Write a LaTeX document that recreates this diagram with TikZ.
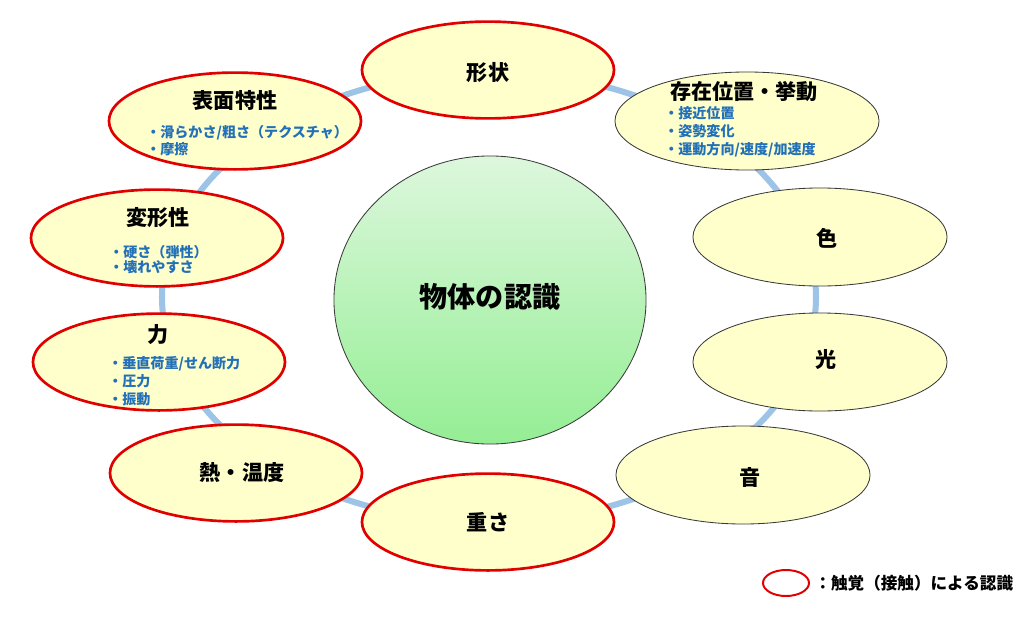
\documentclass[tikz,border=0pt]{standalone}
\usepackage{fontspec}
\setmainfont{Noto Sans CJK JP}
\usetikzlibrary{positioning,shapes.geometric}
\definecolor{ringblue}{HTML}{9DC3E6}
\definecolor{paleyellow}{HTML}{FFFFCC}
\definecolor{touchred}{HTML}{E00000}
\definecolor{itemblue}{HTML}{2270B8}
\definecolor{rimgray}{HTML}{3A3A3A}
\definecolor{coretop}{HTML}{DDF7DD}
\definecolor{corebottom}{HTML}{94EE94}
\tikzset{
  ring/.style={draw=ringblue, line width=4.3pt},
  touch/.style={ellipse, draw=touchred, line width=1.9pt, fill=paleyellow,
    minimum width=6.3cm, minimum height=2.42cm, inner sep=0pt},
  sense/.style={ellipse, draw=rimgray, line width=0.6pt, fill=paleyellow,
    minimum width=6.35cm, minimum height=2.45cm, inner sep=0pt},
  core/.style={ellipse, draw=rimgray, line width=0.6pt, top color=coretop,
    bottom color=corebottom, minimum width=7.8cm, minimum height=7.2cm, inner sep=0pt},
  ttl/.style={font=\fontsize{15}{18}\selectfont\bfseries, inner sep=0pt},
  items/.style={font=\fontsize{10}{#1}\selectfont\bfseries, text=itemblue,
    align=left, anchor=north west, inner sep=0pt},
  items/.default=13pt
}

\begin{document}
\begin{tikzpicture}[x=0.025cm, y=-0.025cm]
		\useasboundingbox (0,0) rectangle (1032,618);

		% Cycle
		\draw[ring] (489,297) ellipse [x radius=327, y radius=225];

		% Define nodes
		\node[core] (C) at (490,300) {};
		\node[font=\fontsize{20}{24}\selectfont\bfseries] (Ct) at (490,297) {物体の認識};

		\node[touch] (Sh) at (488,70) {};
		\node[sense, minimum width=6.6cm] (Po) at (747,121) {};
		\node[touch] (Su) at (235,121) {};
		\node[touch] (De) at (157,238) {};
		\node[sense] (Co) at (820,237) {};
		\node[touch] (Fo) at (159,362) {};
		\node[sense] (Li) at (820,362) {};
		\node[touch] (He) at (236,473) {};
		\node[sense] (So) at (743,475) {};
		\node[touch] (We) at (488,522) {};

		% Labels
		\node[ttl] (Sht) at (488,73) {形状};
		\node[ttl] (Pot) at (744,92) {存在位置・挙動};
		\node[items] (Poi) at (664,106) {・接近位置\\・姿勢変化\\・運動方向/速度/加速度};
		\node[ttl] (Sut) at (235,100) {表面特性};
		\node[items=11.9pt] (Sui) at (146,125) {・滑らかさ/粗さ（テクスチャ）\\・摩擦};
		\node[ttl] (Det) at (158,218) {変形性};
		\node[items=10.7pt] (Dei) at (109,245) {・硬さ（弾性）\\・壊れやすさ};
		\node[ttl] (Cot) at (827,238) {色};
		\node[ttl] (Fot) at (158,335) {力};
		\node[items] (Foi) at (108,356) {・垂直荷重/せん断力\\・圧力\\・振動};
		\node[ttl] (Lit) at (826,360) {光};
		\node[ttl] (Het) at (242,473) {熱・温度};
		\node[ttl] (Sot) at (750,477) {音};
		\node[ttl] (Wet) at (488,522) {重さ};

		% Legend
		\node[touch, fill=white, line width=1.4pt, minimum width=1.15cm, minimum height=0.65cm] (L) at (786,583) {};
		\node[font=\fontsize{11.8}{14}\selectfont\bfseries, inner sep=0pt, right=3pt of L] (Lt) {：触覚（接触）による認識};

	\end{tikzpicture}
\end{document}
